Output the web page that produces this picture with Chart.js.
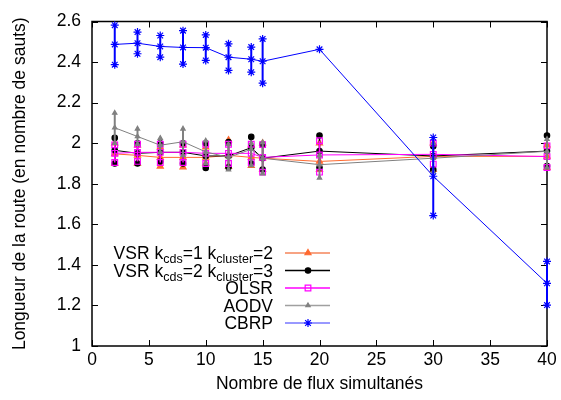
<!DOCTYPE html>
<html><head><meta charset="utf-8">
<script src="https://cdn.jsdelivr.net/npm/chart.js@4/dist/chart.umd.min.js"></script>
<style>html,body{margin:0;padding:0;background:#fff}#wrap{width:561px;height:400px}</style>
</head><body><div id="wrap"><canvas id="c" width="561" height="400"></canvas></div>
<script>
// ---- data ----
const xValues = [2, 4, 6, 8, 10, 12, 14, 15, 20, 30, 40];
const xTicks = [0, 5, 10, 15, 20, 25, 30, 35, 40];
const yTicks = [1, 1.2, 1.4, 1.6, 1.8, 2, 2.2, 2.4, 2.6];
const yTickLabels = ['1', '1.2', '1.4', '1.6', '1.8', '2', '2.2', '2.4', '2.6'];

const vsr1Mean = [1.947, 1.94, 1.93, 1.93, 1.93, 1.94, 1.93, 1.926, 1.91, 1.935, 1.935];
const vsr1Low  = [1.90, 1.90, 1.886, 1.882, 1.90, 1.885, 1.889, 1.87, 1.87, 1.87, 1.88];
const vsr1High = [2.0, 1.99, 1.98, 1.99, 1.98, 2.015, 1.99, 2.0, 2.0, 2.0, 1.99];

const vsr2Mean = [1.965, 1.95, 1.955, 1.955, 1.937, 1.937, 1.978, 1.926, 1.961, 1.937, 1.961];
const vsr2Low  = [1.90, 1.90, 1.91, 1.90, 1.878, 1.881, 1.90, 1.87, 1.88, 1.87, 1.887];
const vsr2High = [2.026, 2.0, 2.0, 2.0, 2.0, 2.005, 2.031, 1.995, 2.038, 1.985, 2.038];

const olsrMean = [1.95, 1.955, 1.955, 1.955, 1.95, 1.95, 1.95, 1.93, 1.942, 1.945, 1.934];
const olsrLow  = [1.905, 1.91, 1.905, 1.905, 1.90, 1.90, 1.905, 1.857, 1.857, 1.897, 1.88];
const olsrHigh = [1.992, 1.995, 1.995, 1.995, 1.995, 1.995, 1.995, 1.993, 2.012, 2.0, 1.987];

const aodvMean = [2.076, 2.033, 1.99, 2.007, 1.957, 1.93, 1.97, 1.926, 1.894, 1.926, 1.96];
const aodvLow  = [2.0, 1.995, 1.955, 1.94, 1.90, 1.87, 1.89, 1.85, 1.829, 1.86, 1.88];
const aodvHigh = [2.149, 2.071, 2.025, 2.071, 2.012, 1.995, 2.0, 2.004, 1.94, 2.0, 2.02];

const cbrpMean = [2.487, 2.493, 2.477, 2.472, 2.471, 2.424, 2.414, 2.404, 2.463, 1.837, 1.309];
const cbrpLow  = [2.387, 2.441, 2.424, 2.390, 2.408, 2.359, 2.350, 2.296, null, 1.643, 1.202];
const cbrpHigh = [2.582, 2.548, 2.531, 2.555, 2.534, 2.490, 2.474, 2.514, null, 2.028, 1.417];

const FONT = '"Liberation Sans", Arial, sans-serif';
const FS = 17.5;

const series = [
  {label: 'VSR kcds=1 kcluster=2', parts: [['VSR k', 0], ['cds', 1], ['=1 k', 0], ['cluster', 1], ['=2', 0]],
   mean: vsr1Mean, low: vsr1Low, high: vsr1High, color: '#ff6a30', legendColor: '#f4845a', style: 'triangle', radius: 3.5, fill: true, eb: 1.5},
  {label: 'VSR kcds=2 kcluster=3', parts: [['VSR k', 0], ['cds', 1], ['=2 k', 0], ['cluster', 1], ['=3', 0]],
   mean: vsr2Mean, low: vsr2Low, high: vsr2High, color: '#000000', legendColor: '#000000', style: 'circle', radius: 2.7, fill: true, eb: 1.5},
  {label: 'OLSR', parts: [['OLSR', 0]],
   mean: olsrMean, low: olsrLow, high: olsrHigh, color: '#ff00ff', legendColor: '#ff00ff', style: 'rect', radius: 4, fill: false, eb: 1.5},
  {label: 'AODV', parts: [['AODV', 0]],
   mean: aodvMean, low: aodvLow, high: aodvHigh, color: '#808080', legendColor: '#a0a0a0', style: 'triangle', radius: 2.5, fill: true, eb: 2},
  {label: 'CBRP', parts: [['CBRP', 0]],
   mean: cbrpMean, low: cbrpLow, high: cbrpHigh, color: '#0000ff', legendColor: '#3333ff', style: 'star', radius: 4, fill: false, eb: 2}
];

function drawMarker(ctx, s, x, y) {
  ctx.save();
  ctx.fillStyle = s.fill ? s.color : 'rgba(0,0,0,0)';
  ctx.strokeStyle = s.color;
  ctx.lineWidth = 1.2;
  const opts = {pointStyle: s.style, radius: s.radius, rotation: 0, borderWidth: 1.2};
  if (Chart.helpers && Chart.helpers.drawPoint) {
    Chart.helpers.drawPoint(ctx, opts, x, y);
  }
  ctx.restore();
}

const errorBars = {
  id: 'errorBars',
  beforeDatasetDraw(chart, args) {
    const s = series[args.index];
    const xs = chart.scales.x, ys = chart.scales.y, ctx = chart.ctx;
    ctx.save();
    ctx.strokeStyle = s.color;
    ctx.lineWidth = s.eb;
    xValues.forEach((x, i) => {
      const lo = s.low[i], hi = s.high[i];
      if (lo == null || hi == null) return;
      const px = xs.getPixelForValue(x);
      const pl = ys.getPixelForValue(lo), ph = ys.getPixelForValue(hi);
      ctx.beginPath(); ctx.moveTo(px, pl); ctx.lineTo(px, ph); ctx.stroke();
      drawMarker(ctx, s, px, pl);
      drawMarker(ctx, s, px, ph);
    });
    ctx.restore();
  }
};

const frame = {
  id: 'frame',
  beforeDatasetsDraw(chart) {
    const {ctx, chartArea: a} = chart;
    const xs = chart.scales.x, ys = chart.scales.y;
    ctx.save();
    ctx.strokeStyle = '#000'; ctx.lineWidth = 1;
    ctx.beginPath();
    const L = 6;
    xTicks.forEach(v => {
      const p = Math.round(xs.getPixelForValue(v)) + 0.5;
      ctx.moveTo(p, a.bottom); ctx.lineTo(p, a.bottom - L);
      ctx.moveTo(p, a.top); ctx.lineTo(p, a.top + L);
    });
    yTicks.forEach(v => {
      const p = Math.round(ys.getPixelForValue(v)) + 0.5;
      ctx.moveTo(a.left, p); ctx.lineTo(a.left + L, p);
      ctx.moveTo(a.right, p); ctx.lineTo(a.right - L, p);
    });
    ctx.stroke();
    ctx.lineWidth = 1.5;
    ctx.strokeRect(a.left, a.top, a.right - a.left, a.bottom - a.top);
    ctx.restore();
  }
};

const keyBox = {
  id: 'keyBox',
  afterDraw(chart) {
    const ctx = chart.ctx;
    const textRight = 273, lineL = 285, lineR = 330, mark = 308;
    series.forEach((s, i) => {
      const y = 253 + i * 17.5;
      ctx.save();
      ctx.fillStyle = '#000';
      ctx.textBaseline = 'alphabetic';
      let total = 0;
      s.parts.forEach(([t, sub]) => {
        ctx.font = (sub ? 12.5 : FS) + 'px ' + FONT;
        total += ctx.measureText(t).width;
      });
      let x = textRight - total;
      s.parts.forEach(([t, sub]) => {
        ctx.font = (sub ? 12.5 : FS) + 'px ' + FONT;
        ctx.fillText(t, x, y + 6 + (sub ? 4 : 0));
        x += ctx.measureText(t).width;
      });
      ctx.strokeStyle = s.legendColor; ctx.lineWidth = i === 4 ? 1 : 1.5;
      ctx.beginPath(); ctx.moveTo(lineL, y); ctx.lineTo(lineR, y); ctx.stroke();
      ctx.restore();
      drawMarker(ctx, s, mark, y);
    });
  }
};

const datasets = series.map((s, i) => ({
  label: s.label,
  data: xValues.map((x, j) => ({x: x, y: s.mean[j]})),
  borderColor: s.color,
  backgroundColor: s.fill ? s.color : 'rgba(0,0,0,0)',
  borderWidth: 1,
  pointStyle: s.style,
  pointRadius: s.radius,
  pointBorderWidth: 1.2,
  pointBackgroundColor: s.fill ? s.color : 'rgba(0,0,0,0)',
  pointBorderColor: s.color,
  tension: 0,
  order: 5 - i,
  clip: false
}));

new Chart(document.getElementById('c'), {
  type: 'line',
  data: {datasets},
  plugins: [errorBars, frame, keyBox],
  options: {
    responsive: false,
    animation: false,
    layout: {padding: {top: 16, right: 14, left: 0, bottom: 0}},
    plugins: {legend: {display: false}, tooltip: {enabled: false}},
    scales: {
      x: {
        type: 'linear', min: 0, max: 40,
        afterFit: sc => { sc.height = 54; },
        afterBuildTicks: sc => { sc.ticks = xTicks.map(v => ({value: v})); },
        grid: {display: false, drawTicks: false},
        border: {display: false},
        ticks: {color: '#000', padding: 4, font: {family: FONT, size: FS}, maxRotation: 0,
                callback: v => String(v)},
        title: {display: true, text: 'Nombre de flux simultanés', color: '#000',
                font: {family: FONT, size: FS}, padding: {top: 0, bottom: 5}}
      },
      y: {
        type: 'linear', min: 1, max: 2.6,
        afterFit: sc => { sc.width = 92; },
        afterBuildTicks: sc => { sc.ticks = yTicks.map(v => ({value: v})); },
        grid: {display: false, drawTicks: false},
        border: {display: false},
        ticks: {color: '#000', padding: 11, font: {family: FONT, size: FS},
                callback: (v, i) => yTickLabels[i]},
        title: {display: true, text: 'Longueur de la route (en nombre de sauts)', color: '#000',
                font: {family: FONT, size: FS}, padding: {top: 10, bottom: 0}}
      }
    }
  }
});
</script></body></html>
